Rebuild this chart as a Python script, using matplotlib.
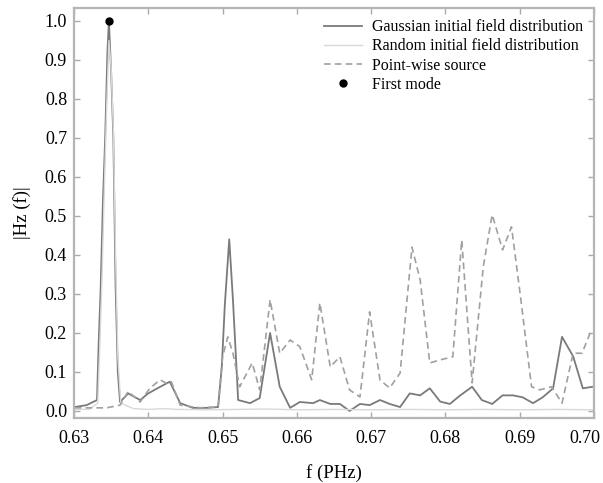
import matplotlib
matplotlib.use("Agg")
import matplotlib.pyplot as plt
import matplotlib.transforms as mtransforms
from matplotlib.ticker import FormatStrFormatter

f_gauss = [0.6301, 0.6317, 0.6331, 0.6333, 0.6336, 0.6339, 0.6342, 0.6345, 0.6347,
           0.6350, 0.6353, 0.6356, 0.6359, 0.6362, 0.6373, 0.6389, 0.6400, 0.6416,
           0.6429, 0.6443, 0.6460, 0.6478, 0.6494, 0.6499, 0.6503, 0.6509, 0.6514,
           0.6521, 0.6537, 0.6550, 0.6564, 0.6577, 0.6591, 0.6604, 0.6622, 0.6631,
           0.6645, 0.6658, 0.6671, 0.6685, 0.6698, 0.6712, 0.6725, 0.6739, 0.6752,
           0.6766, 0.6779, 0.6793, 0.6806, 0.6820, 0.6836, 0.6849, 0.6863, 0.6877,
           0.6891, 0.6904, 0.6918, 0.6931, 0.6945, 0.6957, 0.6972, 0.6985, 0.6998]
hz_gauss = [0.010, 0.015, 0.028, 0.16, 0.32, 0.54, 0.70, 0.92, 1.00,
            0.87, 0.70, 0.32, 0.10, 0.023, 0.045, 0.028, 0.045, 0.062,
            0.075, 0.020, 0.008, 0.008, 0.010, 0.113, 0.27, 0.44, 0.285,
            0.028, 0.020, 0.033, 0.20, 0.062, 0.008, 0.023, 0.020, 0.028,
            0.018, 0.018, 0.000, 0.018, 0.015, 0.028, 0.018, 0.010, 0.045,
            0.040, 0.058, 0.024, 0.018, 0.040, 0.062, 0.028, 0.018, 0.040,
            0.040, 0.035, 0.020, 0.035, 0.058, 0.19, 0.14, 0.058, 0.062]

f_random = [0.6301, 0.6320, 0.6332, 0.6335, 0.6338, 0.6341, 0.6344, 0.6347, 0.6350,
            0.6353, 0.6356, 0.6359, 0.6363, 0.6380, 0.6400, 0.6420, 0.6440, 0.6480,
            0.6520, 0.6560, 0.6600, 0.6650, 0.6700, 0.6750, 0.6800, 0.6850, 0.6900,
            0.6950, 0.7000]
hz_random = [0.004, 0.004, 0.02, 0.18, 0.36, 0.58, 0.78, 0.95, 0.88,
             0.72, 0.40, 0.14, 0.02, 0.006, 0.004, 0.006, 0.004, 0.003,
             0.004, 0.005, 0.003, 0.004, 0.003, 0.004, 0.003, 0.004, 0.003,
             0.004, 0.003]

f_point = [0.6301, 0.6326, 0.6344, 0.6362, 0.6373, 0.6389, 0.6402, 0.6416, 0.6425,
           0.6431, 0.6443, 0.6469, 0.6494, 0.6500, 0.6507, 0.6514, 0.6523, 0.6540,
           0.6550, 0.6564, 0.6577, 0.6591, 0.6604, 0.6620, 0.6631, 0.6645, 0.6658,
           0.6671, 0.6685, 0.6698, 0.6712, 0.6725, 0.6739, 0.6755, 0.6766, 0.6779,
           0.6793, 0.6810, 0.6822, 0.6836, 0.6851, 0.6863, 0.6877, 0.6889, 0.6900,
           0.6916, 0.6927, 0.6943, 0.6957, 0.6972, 0.6984, 0.6997]
hz_point = [0.008, 0.008, 0.008, 0.015, 0.050, 0.023, 0.058, 0.080, 0.070,
            0.075, 0.015, 0.008, 0.010, 0.138, 0.19, 0.148, 0.062, 0.123,
            0.054, 0.285, 0.148, 0.182, 0.165, 0.080, 0.277, 0.113, 0.139,
            0.054, 0.036, 0.254, 0.079, 0.059, 0.097, 0.42, 0.336, 0.123,
            0.131, 0.139, 0.438, 0.072, 0.37, 0.503, 0.413, 0.472, 0.31,
            0.062, 0.054, 0.062, 0.020, 0.148, 0.148, 0.21]

first_mode_f = [0.6347]
first_mode_hz = [1.0]

x_ticks = [0.63, 0.64, 0.65, 0.66, 0.67, 0.68, 0.69, 0.70]
y_ticks = [0.0, 0.1, 0.2, 0.3, 0.4, 0.5, 0.6, 0.7, 0.8, 0.9, 1.0]

plt.rcParams['font.family'] = ['Liberation Serif', 'DejaVu Serif']

fig = plt.figure(figsize=(6.03, 4.83), dpi=100)
ax = fig.add_axes([0.1227, 0.1346, 0.8623, 0.8488])

ax.plot(f_gauss, hz_gauss, color='#7a7a7a', lw=1.3, ls='-',
        label='Gaussian initial field distribution')
ax.plot(f_random, hz_random, color='#d9d9d9', lw=1.0, ls='-',
        label='Random initial field distribution')
ax.plot(f_point, hz_point, color='#a0a0a0', lw=1.2, ls=(0, (4, 2.5)),
        label='Point-wise source')
ax.plot(first_mode_f, first_mode_hz, 'o', color='black', ms=5,
        label='First mode')

ax.set_xlim(0.63, 0.70)
ax.set_ylim(-0.018, 1.033)
ax.set_xticks(x_ticks)
ax.set_yticks(y_ticks)
ax.xaxis.set_major_formatter(FormatStrFormatter('%.2f'))
ax.yaxis.set_major_formatter(FormatStrFormatter('%.1f'))
ax.tick_params(direction='in', length=4, width=1, color='#aaaaaa',
               top=True, right=True, labelsize=13)
ax.tick_params(axis='x', pad=9)
ax.tick_params(axis='y', pad=5)
for s in ax.spines.values():
    s.set_color('#b5b5b5')
    s.set_linewidth(1.6)

ax.set_xlabel('f (PHz)', fontsize=13.5, labelpad=12)
ax.set_ylabel('|Hz (f)|', fontsize=13.5, labelpad=10)

# shift the last x tick label left so it stays inside the figure
fig.canvas.draw()
last = ax.get_xticklabels()[-1]
last.set_transform(last.get_transform() +
                   mtransforms.ScaledTranslation(-9 / 100, 0, fig.dpi_scale_trans))

leg = ax.legend(loc='upper right', frameon=False, fontsize=11.5,
                handlelength=2.4, handletextpad=0.6, labelspacing=0.2,
                borderaxespad=0.3)

fig.savefig('out.png', dpi=100)
